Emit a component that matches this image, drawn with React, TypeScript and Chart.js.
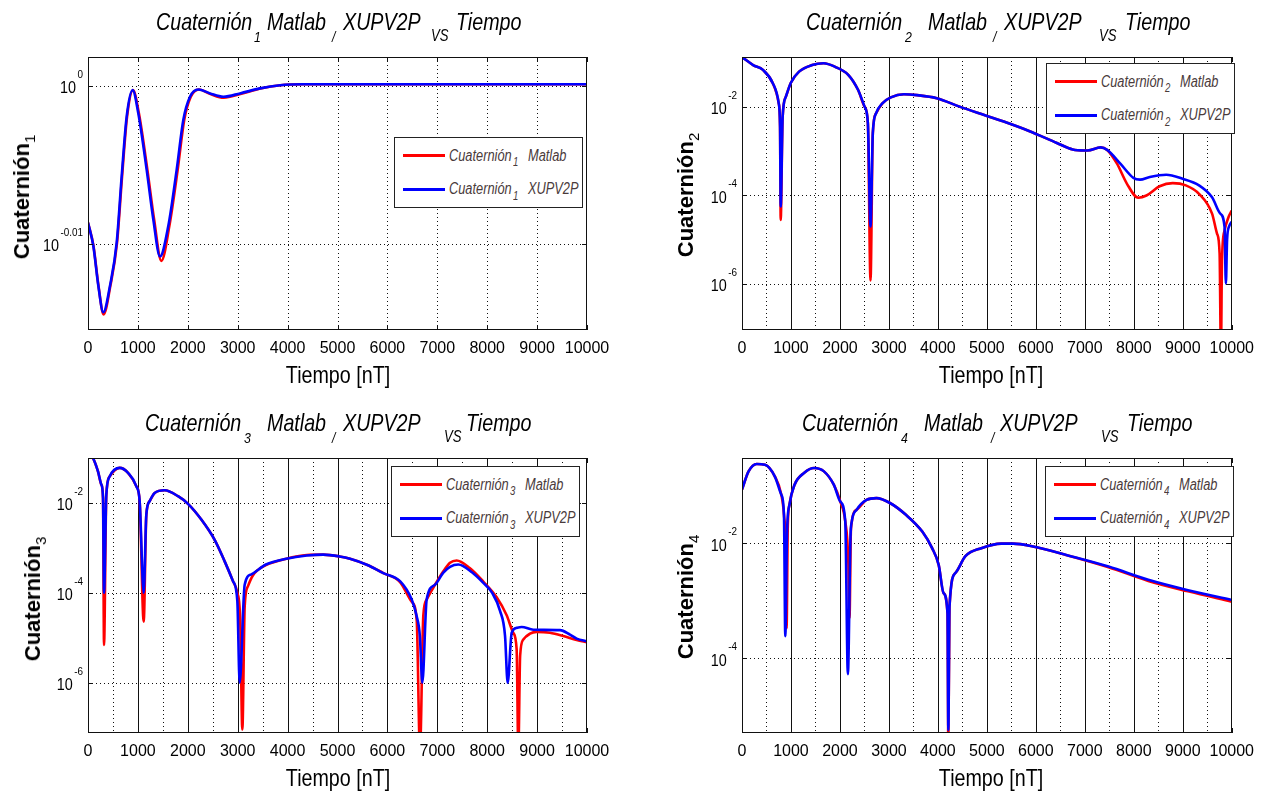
import React, { useEffect, useRef } from "react";
import { Chart, registerables } from "chart.js";

Chart.register(...registerables);

const SANS = '"Liberation Sans", Arial, Helvetica, sans-serif';
const NARROW = '"Liberation Sans Narrow", "Arial Narrow", "Liberation Sans", Arial, sans-serif';

// ---------------- data ----------------
const gridMajor = [1000, 2000, 3000, 4000, 5000, 6000, 7000, 8000, 9000];
const gridMinor = [500, 1500, 2500, 3500, 4500, 5500, 6500, 7500, 8500, 9500];
const xTickValues = [0, 1000, 2000, 3000, 4000, 5000, 6000, 7000, 8000, 9000, 10000];

// Cuaternión 1
const q1TimeXupv = [0, 107, 207, 307, 441, 575, 675, 775, 895, 1008, 1176, 1309, 1443, 1609, 1777, 1910, 2044, 2211, 2445, 2713, 3046, 3447, 3848, 4300, 10000];
const q1Xupv = [0.98026, 0.9769, 0.97125, 0.9675, 0.97125, 0.97737, 0.98687, 0.99552, 0.99938, 0.996, 0.98782, 0.98069, 0.9754, 0.97974, 0.98782, 0.99504, 0.99841, 0.99947, 0.9989, 0.99841, 0.9989, 0.99963, 1.00009, 1.00023, 1.00023];
const q1TimeMatlab = [0, 110, 210, 312, 448, 582, 683, 783, 903, 1020, 1190, 1325, 1470, 1630, 1797, 1928, 2060, 2225, 2455, 2720, 3055, 3455, 3855, 4300, 10000];
const q1Matlab = [0.98026, 0.9769, 0.97125, 0.9672, 0.97125, 0.97737, 0.98687, 0.99552, 0.99938, 0.996, 0.98782, 0.98069, 0.97479, 0.97974, 0.98782, 0.99504, 0.99841, 0.99947, 0.9988, 0.99828, 0.9988, 0.9996, 1.00009, 1.00023, 1.00023];
const q1YTicks = [1, 0.977237];
const q1YExp = ["0", "-0.01"];

// Cuaternión 2
const q2TimeXupv = [0, 227, 428, 629, 749, 777, 790, 830, 898, 998, 1165, 1432, 1667, 1901, 2169, 2369, 2503, 2570, 2624, 2671, 2738, 2871, 3039, 3307, 3574, 3976, 4444, 4946, 5400, 5860, 6429, 6753, 6997, 7055, 7323, 7456, 7725, 7992, 8127, 8327, 8661, 8996, 9331, 9598, 9766, 9853, 9880, 9905, 9950, 10000];
const q2Xupv = [0.1318, 0.0871, 0.0676, 0.0339, 0.012, 0.00355, 5.5e-5, 5.89e-3, 0.017, 0.0347, 0.0617, 0.0871, 0.0955, 0.0794, 0.0525, 0.024, 0.01, 4.27e-3, 1.95e-5, 2.51e-3, 7.08e-3, 0.012, 0.0162, 0.0191, 0.0182, 0.0155, 0.01, 6.46e-3, 4.37e-3, 2.82e-3, 1.51e-3, 1.07e-3, 1.02e-3, 1.02e-3, 1.2e-3, 1.05e-3, 5.13e-4, 2.45e-4, 2.24e-4, 2.57e-4, 2.88e-4, 2.34e-4, 1.66e-4, 8.91e-5, 3.8e-5, 1.91e-5, 1.0e-6, 1.0e-5, 2.0e-5, 2.51e-5];
const q2TimeMatlab = [0, 227, 428, 629, 749, 777, 790, 830, 898, 998, 1165, 1432, 1667, 1901, 2169, 2369, 2503, 2570, 2624, 2671, 2738, 2871, 3039, 3307, 3574, 3976, 4444, 4946, 5400, 5860, 6429, 6753, 6997, 7055, 7323, 7456, 7657, 7858, 8092, 8259, 8527, 8795, 9063, 9331, 9598, 9699, 9752, 9779, 9800, 9853, 9933, 10000];
const q2Matlab = [0.1318, 0.0871, 0.0676, 0.0339, 0.012, 0.00355, 2.75e-5, 5.89e-3, 0.017, 0.0347, 0.0617, 0.0871, 0.0955, 0.0794, 0.0525, 0.024, 0.01, 4.27e-3, 1.175e-6, 2.51e-3, 7.08e-3, 0.012, 0.0162, 0.0191, 0.0182, 0.0155, 0.01, 6.46e-3, 4.37e-3, 2.82e-3, 1.51e-3, 1.07e-3, 1.02e-3, 1.02e-3, 1.2e-3, 1.05e-3, 5.13e-4, 1.82e-4, 8.71e-5, 9.77e-5, 1.58e-4, 1.86e-4, 1.66e-4, 1.07e-4, 3.8e-5, 1.35e-5, 4.79e-6, 2.5e-8, 3.16e-6, 1.58e-5, 3.16e-5, 4.47e-5];
const decadeTicks3 = [1e-2, 1e-4, 1e-6];
const decadeExp3 = ["-2", "-4", "-6"];

// Cuaternión 3
const q3TimeXupv = [0, 100, 200, 267, 301, 321, 367, 434, 635, 802, 969, 1035, 1116, 1169, 1236, 1336, 1537, 1804, 2004, 2271, 2538, 2739, 2906, 2993, 3039, 3140, 3273, 3566, 3975, 4385, 4713, 5041, 5251, 5600, 5918, 6253, 6487, 6587, 6650, 6700, 6787, 6954, 7121, 7255, 7421, 7700, 7922, 8100, 8257, 8357, 8410, 8491, 8591, 8691, 8925, 9459, 9659, 9793, 10000];
const q3Xupv = [0.141, 0.1, 0.0501, 0.0257, 0.0129, 1.0e-4, 0.0151, 0.0389, 0.0603, 0.0468, 0.0234, 0.011, 1.0e-4, 5.5e-3, 0.011, 0.0166, 0.0191, 0.0141, 9.55e-3, 4.27e-3, 1.51e-3, 5.01e-4, 1.82e-4, 6.46e-5, 1.0e-6, 1.51e-4, 2.57e-4, 4.27e-4, 5.75e-4, 6.76e-4, 7.08e-4, 6.46e-4, 5.75e-4, 4.17e-4, 2.75e-4, 1.82e-4, 7.08e-5, 3.02e-5, 1.12e-5, 1.0e-6, 7.08e-5, 1.51e-4, 2.82e-4, 3.8e-4, 4.27e-4, 2.82e-4, 1.66e-4, 1.0e-4, 3.98e-5, 1.12e-5, 1.0e-6, 1.29e-5, 1.66e-5, 1.74e-5, 1.51e-5, 1.48e-5, 1.175e-5, 9.55e-6, 8.32e-6];
const q3TimeMatlab = [0, 100, 200, 267, 301, 321, 367, 434, 635, 802, 969, 1035, 1116, 1169, 1236, 1336, 1537, 1804, 2004, 2271, 2538, 2739, 2906, 2993, 3050, 3093, 3140, 3206, 3300, 3400, 3566, 3975, 4385, 4713, 5041, 5251, 5600, 5918, 6253, 6487, 6587, 6653, 6720, 6787, 6954, 7121, 7255, 7388, 7650, 7922, 8190, 8390, 8523, 8590, 8624, 8660, 8724, 8858, 8992, 9259, 9525, 9793, 10000];
const q3Matlab = [0.141, 0.1, 0.0501, 0.0257, 0.0129, 6.92e-6, 0.0151, 0.0389, 0.0603, 0.0468, 0.0234, 0.011, 2.29e-5, 5.5e-3, 0.011, 0.0166, 0.0191, 0.0141, 9.55e-3, 4.27e-3, 1.51e-3, 5.01e-4, 1.82e-4, 1.0e-4, 2.51e-5, 9.1e-8, 5.01e-5, 1.41e-4, 2.4e-4, 3.2e-4, 4.17e-4, 5.75e-4, 6.92e-4, 7.08e-4, 6.46e-4, 5.75e-4, 4.17e-4, 2.75e-4, 1.74e-4, 6.31e-5, 2.51e-5, 3.16e-8, 3.16e-5, 7.08e-5, 1.51e-4, 3.02e-4, 4.68e-4, 5.25e-4, 3.55e-4, 1.78e-4, 7.94e-5, 3.16e-5, 1.29e-5, 5.5e-6, 3.16e-8, 3.98e-6, 9.12e-6, 1.23e-5, 1.35e-5, 1.29e-5, 1.096e-5, 8.91e-6, 7.94e-6];

// Cuaternión 4
const q4TimeXupv = [0, 134, 301, 469, 669, 803, 857, 884, 920, 970, 1071, 1272, 1473, 1673, 1874, 2008, 2108, 2162, 2215, 2243, 2343, 2544, 2745, 3012, 3347, 3681, 3882, 4016, 4115, 4196, 4213, 4237, 4359, 4562, 4886, 5292, 5536, 5942, 6672, 7484, 8295, 9107, 10000];
const q4Xupv = [0.0851, 0.176, 0.237, 0.23, 0.1445, 0.0692, 0.0309, 2.4e-4, 0.0158, 0.0468, 0.102, 0.166, 0.201, 0.176, 0.1033, 0.0525, 0.024, 5.25e-5, 0.0126, 0.024, 0.038, 0.0562, 0.0603, 0.0501, 0.0309, 0.0158, 8.13e-3, 4.17e-3, 1.35e-3, 6.03e-4, 5.6e-6, 7.94e-4, 3.02e-3, 5.89e-3, 8.13e-3, 9.77e-3, 9.77e-3, 8.71e-3, 6.03e-3, 3.89e-3, 2.29e-3, 1.51e-3, 1.02e-3];
const q4TimeMatlab = [0, 134, 301, 469, 669, 803, 857, 895, 910, 935, 970, 1071, 1272, 1473, 1673, 1874, 2008, 2108, 2170, 2195, 2225, 2343, 2544, 2745, 3012, 3347, 3681, 3882, 4016, 4115, 4196, 4213, 4237, 4359, 4562, 4886, 5292, 5536, 5942, 6672, 7484, 8295, 9107, 10000];
const q4Matlab = [0.0851, 0.176, 0.237, 0.23, 0.1445, 0.0692, 0.0309, 6.3e-3, 3.31e-4, 0.02, 0.0468, 0.102, 0.166, 0.201, 0.176, 0.1033, 0.0525, 0.024, 5.01e-3, 5.01e-4, 0.0178, 0.038, 0.0562, 0.0603, 0.0501, 0.0309, 0.0158, 8.13e-3, 4.17e-3, 1.35e-3, 6.03e-4, 3.0e-6, 7.94e-4, 3.02e-3, 5.89e-3, 8.13e-3, 9.77e-3, 9.77e-3, 8.71e-3, 6.03e-3, 3.8e-3, 2.19e-3, 1.445e-3, 9.55e-4];
const decadeTicks2 = [1e-2, 1e-4];
const decadeExp2 = ["-2", "-4"];

const pts = (xs: number[], ys: number[]) => xs.map((x, i) => ({ x, y: ys[i] }));

// ---------------- layout ----------------
interface PanelCfg {
  n: number;
  left: number; top: number; width: number; height: number;
  L: number; T: number; R: number; B: number;
  yMin: number; yMax: number;
  yTicks: number[]; yExp: string[];
  solidMajor: boolean;
  red: { x: number; y: number }[];
  blue: { x: number; y: number }[];
  yTitleX: number; yTitleY: number;
  legendX: number; legendY: number;
  title: { t: string; x: number; sub?: boolean }[];
}

const XAXIS_H = 40;

const panels: PanelCfg[] = [
  {
    n: 1, left: 0, top: 0, width: 631, height: 400, L: 88, T: 57, R: 587, B: 330,
    yMin: 0.96528, yMax: 1.00422, yTicks: q1YTicks, yExp: q1YExp, solidMajor: false,
    red: pts(q1TimeMatlab, q1Matlab), blue: pts(q1TimeXupv, q1Xupv),
    yTitleX: 23, yTitleY: 197, legendX: 394, legendY: 137,
    title: [
      { t: "Cuaternión", x: 156 }, { t: "1", x: 254, sub: true }, { t: "Matlab", x: 267 },
      { t: "/", x: 332, sub: true }, { t: "XUPV2P", x: 343 }, { t: "VS", x: 431, sub: true }, { t: "Tiempo", x: 456 },
    ],
  },
  {
    n: 2, left: 631, top: 0, width: 632, height: 400, L: 742, T: 57, R: 1240, B: 330,
    yMin: 8.9e-8, yMax: 0.1324, yTicks: decadeTicks3, yExp: decadeExp3, solidMajor: true,
    red: pts(q2TimeMatlab, q2Matlab), blue: pts(q2TimeXupv, q2Xupv),
    yTitleX: 686.5, yTitleY: 195, legendX: 1046, legendY: 63,
    title: [
      { t: "Cuaternión", x: 806 }, { t: "2", x: 905, sub: true }, { t: "Matlab", x: 928 },
      { t: "/", x: 993, sub: true }, { t: "XUPV2P", x: 1004 }, { t: "VS", x: 1099, sub: true }, { t: "Tiempo", x: 1125 },
    ],
  },
  {
    n: 3, left: 0, top: 400, width: 631, height: 393, L: 88, T: 458, R: 587, B: 733,
    yMin: 7.6e-8, yMax: 0.1, yTicks: decadeTicks3, yExp: decadeExp3, solidMajor: true,
    red: pts(q3TimeMatlab, q3Matlab), blue: pts(q3TimeXupv, q3Xupv),
    yTitleX: 33.5, yTitleY: 599, legendX: 391, legendY: 466,
    title: [
      { t: "Cuaternión", x: 145 }, { t: "3", x: 244, sub: true }, { t: "Matlab", x: 267 },
      { t: "/", x: 332, sub: true }, { t: "XUPV2P", x: 343 }, { t: "VS", x: 444, sub: true }, { t: "Tiempo", x: 466 },
    ],
  },
  {
    n: 4, left: 631, top: 400, width: 632, height: 393, L: 742, T: 458, R: 1240, B: 733,
    yMin: 4.97e-6, yMax: 0.3006, yTicks: decadeTicks2, yExp: decadeExp2, solidMajor: true,
    red: pts(q4TimeMatlab, q4Matlab), blue: pts(q4TimeXupv, q4Xupv),
    yTitleX: 686.5, yTitleY: 597, legendX: 1045, legendY: 466,
    title: [
      { t: "Cuaternión", x: 802 }, { t: "4", x: 901, sub: true }, { t: "Matlab", x: 924 },
      { t: "/", x: 991, sub: true }, { t: "XUPV2P", x: 1000 }, { t: "VS", x: 1101, sub: true }, { t: "Tiempo", x: 1127 },
    ],
  },
];

const DOT = [1, 3];

function drawCondensed(ctx: CanvasRenderingContext2D, text: string, x: number, y: number, sx: number) {
  ctx.save();
  ctx.translate(x, y);
  ctx.scale(sx, 1);
  ctx.fillText(text, 0, 0);
  ctx.restore();
}

function axesPlugin(p: PanelCfg) {
  return {
    id: "matlabAxes" + p.n,
    beforeDatasetsDraw(chart: any) {
      const { ctx, chartArea: a, scales } = chart;
      const xs = scales.x, ys = scales.y;
      ctx.save();
      ctx.lineWidth = 1;
      ctx.strokeStyle = "#111";
      const vline = (v: number, dash: number[]) => {
        const x = Math.round(xs.getPixelForValue(v)) + 0.5;
        ctx.setLineDash(dash);
        ctx.beginPath();
        ctx.moveTo(x, a.top);
        ctx.lineTo(x, a.bottom);
        ctx.stroke();
      };
      const hline = (v: number) => {
        const y = Math.round(ys.getPixelForValue(v)) + 0.5;
        ctx.setLineDash(DOT);
        ctx.beginPath();
        ctx.moveTo(a.left, y);
        ctx.lineTo(a.right, y);
        ctx.stroke();
      };
      if (p.solidMajor) {
        gridMinor.forEach((v) => vline(v, DOT));
        gridMajor.forEach((v) => vline(v, []));
      } else {
        gridMajor.forEach((v) => vline(v, DOT));
      }
      p.yTicks.forEach((v) => hline(v));
      ctx.restore();
    },
    afterDatasetsDraw(chart: any) {
      const { ctx, chartArea: a, scales } = chart;
      const xs = scales.x, ys = scales.y;
      ctx.save();
      ctx.setLineDash([]);
      ctx.strokeStyle = "#111";
      ctx.lineWidth = 1;
      ctx.strokeRect(Math.round(a.left) + 0.5, Math.round(a.top) + 0.5, Math.round(a.right - a.left) - 1, Math.round(a.bottom - a.top) - 1);
      ctx.beginPath();
      xTickValues.forEach((v) => {
        const x = Math.round(xs.getPixelForValue(v)) + 0.5;
        ctx.moveTo(x, a.bottom);
        ctx.lineTo(x, a.bottom - 5);
        ctx.moveTo(x, a.top);
        ctx.lineTo(x, a.top + 5);
      });
      p.yTicks.forEach((v) => {
        const y = Math.round(ys.getPixelForValue(v)) + 0.5;
        ctx.moveTo(a.left, y);
        ctx.lineTo(a.left + 5, y);
        ctx.moveTo(a.right, y);
        ctx.lineTo(a.right - 5, y);
      });
      ctx.stroke();
      // y tick labels (10 with superscript exponent)
      ctx.fillStyle = "#000";
      ctx.textBaseline = "alphabetic";
      ctx.textAlign = "left";
      p.yTicks.forEach((v, i) => {
        const y = ys.getPixelForValue(v);
        const exp = p.yExp[i];
        ctx.font = "11px " + SANS;
        const supW = ctx.measureText(exp).width * 0.9;
        const supX = a.left - 5 - supW;
        drawCondensed(ctx, exp, supX, y - 8, 0.9);
        ctx.font = "16px " + SANS;
        const tenW = ctx.measureText("10").width * 0.9;
        drawCondensed(ctx, "10", supX - 1.5 - tenW, y + 7.5, 0.9);
      });
      ctx.restore();
    },
  };
}

function Panel({ cfg }: { cfg: PanelCfg }) {
  const ref = useRef<HTMLCanvasElement>(null);
  useEffect(() => {
    if (!ref.current) return;
    const padLeft = cfg.L - cfg.left;
    const padTop = cfg.T - cfg.top;
    const padRight = cfg.left + cfg.width - cfg.R;
    const padBottom = cfg.top + cfg.height - cfg.B - XAXIS_H;
    const chart = new Chart(ref.current, {
      type: "line",
      data: {
        datasets: [
          {
            label: "Cuaternión " + cfg.n + " XUPV2P",
            data: cfg.blue,
            borderColor: "#0000ff",
            borderWidth: 2.6,
            pointRadius: 0,
            fill: false,
            cubicInterpolationMode: "monotone",
            order: 0,
            clip: 0,
          } as any,
          {
            label: "Cuaternión " + cfg.n + " Matlab",
            data: cfg.red,
            borderColor: "#ff0000",
            borderWidth: 2.6,
            pointRadius: 0,
            fill: false,
            cubicInterpolationMode: "monotone",
            order: 1,
            clip: 0,
          } as any,
        ],
      },
      options: {
        animation: false,
        responsive: false,
        maintainAspectRatio: false,
        events: [],
        elements: { line: { capBezierPoints: false } },
        layout: { padding: { left: padLeft, top: padTop, right: padRight, bottom: padBottom } },
        plugins: { legend: { display: false }, tooltip: { enabled: false }, title: { display: false } },
        scales: {
          x: {
            type: "linear",
            min: 0,
            max: 10000,
            grid: { display: false, drawTicks: false },
            border: { display: false },
            ticks: {
              stepSize: 1000,
              autoSkip: false,
              maxRotation: 0,
              padding: 9,
              color: "#000",
              font: { family: NARROW, size: 16 },
              callback: (v: any) => String(v),
            },
            afterFit: (s: any) => {
              s.height = XAXIS_H;
            },
          },
          y: {
            type: "logarithmic",
            min: cfg.yMin,
            max: cfg.yMax,
            display: false,
          },
        },
      } as any,
      plugins: [axesPlugin(cfg)],
    });
    return () => chart.destroy();
  }, []);
  return (
    <canvas
      ref={ref}
      width={cfg.width}
      height={cfg.height}
      style={{ position: "absolute", left: cfg.left, top: cfg.top, width: cfg.width, height: cfg.height }}
    />
  );
}

const ASC = 0.8465;

function TitleText({ cfg }: { cfg: PanelCfg }) {
  const baseline = cfg.T - 26.5;
  return (
    <>
      {cfg.title.map((p, i) => {
        const size = p.sub ? (p.t === "VS" ? 16 : 15) : 24;
        const bl = p.sub ? baseline + 11 : baseline;
        return (
          <div
            key={i}
            style={{
              position: "absolute",
              left: p.x,
              top: bl - ASC * size,
              fontSize: size,
              lineHeight: size + "px",
              fontStyle: "italic",
              fontFamily: SANS,
              whiteSpace: "nowrap",
              transform: "scaleX(0.82)",
              transformOrigin: "left center",
              color: "#000",
            }}
          >
            {p.t}
          </div>
        );
      })}
    </>
  );
}

function XTitle({ cfg }: { cfg: PanelCfg }) {
  const cx = (cfg.L + cfg.R) / 2;
  const baseline = cfg.B + 53.5;
  return (
    <div
      style={{
        position: "absolute",
        left: cx,
        top: baseline - ASC * 24,
        fontSize: 24,
        lineHeight: "24px",
        fontFamily: SANS,
        whiteSpace: "nowrap",
        transform: "translateX(-50%) scaleX(0.82)",
        color: "#000",
      }}
    >
      Tiempo [nT]
    </div>
  );
}

function YTitle({ cfg }: { cfg: PanelCfg }) {
  return (
    <div
      style={{
        position: "absolute",
        left: cfg.yTitleX,
        top: cfg.yTitleY,
        fontSize: 22,
        lineHeight: "22px",
        fontWeight: "bold",
        fontFamily: SANS,
        whiteSpace: "nowrap",
        transform: "translate(-50%, -50%) rotate(-90deg)",
        color: "#000",
      }}
    >
      Cuaternión
      <span style={{ position: "relative", top: 6, fontSize: 15, fontWeight: "normal" }}>{cfg.n}</span>
    </div>
  );
}

function LegendBox({ cfg }: { cfg: PanelCfg }) {
  const rows = [
    { color: "#ff0000", word: "Matlab", dy: 17.6 },
    { color: "#0000ff", word: "XUPV2P", dy: 51 },
  ];
  const textStyle = (size: number): React.CSSProperties => ({
    position: "absolute",
    fontSize: size,
    lineHeight: size + "px",
    fontStyle: "italic",
    fontFamily: SANS,
    whiteSpace: "nowrap",
    transform: "scaleX(0.8)",
    transformOrigin: "left center",
    color: "#4a3b3b",
  });
  return (
    <div
      style={{
        position: "absolute",
        left: cfg.legendX,
        top: cfg.legendY,
        width: 189,
        height: 71,
        border: "1px solid #222",
        background: "#fff",
        boxSizing: "border-box",
      }}
    >
      {rows.map((r, i) => (
        <React.Fragment key={i}>
          <div style={{ position: "absolute", left: 8, top: r.dy - 1.5, width: 42, height: 3, background: r.color }} />
          <div style={{ ...textStyle(16), left: 54, top: r.dy + 5.7 - ASC * 16 }}>Cuaternión</div>
          <div style={{ ...textStyle(12), left: 117.5, top: r.dy + 11 - ASC * 12 }}>{cfg.n}</div>
          <div style={{ ...textStyle(16), left: 133, top: r.dy + 5.7 - ASC * 16 }}>{r.word}</div>
        </React.Fragment>
      ))}
    </div>
  );
}

export default function App() {
  return (
    <div
      style={{
        position: "absolute",
        left: 0,
        top: 0,
        width: 1263,
        height: 793,
        background: "#fff",
        overflow: "hidden",
        fontFamily: SANS,
      }}
    >
      {panels.map((p) => (
        <Panel key={"c" + p.n} cfg={p} />
      ))}
      {panels.map((p) => (
        <React.Fragment key={"t" + p.n}>
          <TitleText cfg={p} />
          <XTitle cfg={p} />
          <YTitle cfg={p} />
          <LegendBox cfg={p} />
        </React.Fragment>
      ))}
    </div>
  );
}
